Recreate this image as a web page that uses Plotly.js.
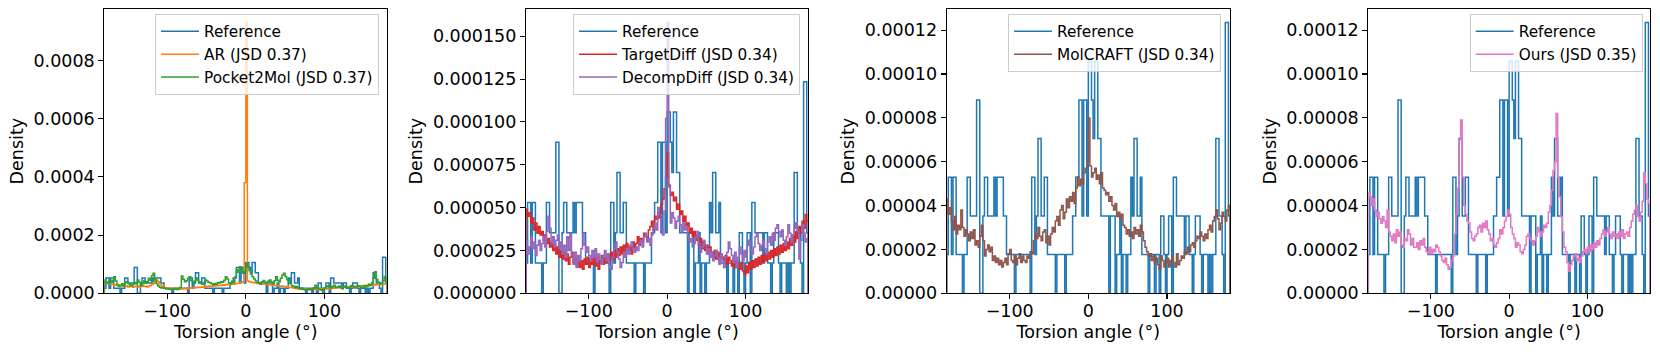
<!DOCTYPE html>
<html>
<head>
<meta charset="utf-8">
<script src="https://cdn.plot.ly/plotly-3.0.1.min.js"></script>
<style>html,body{margin:0;padding:0;background:#fff;}#chart{width:1660px;height:352px;}</style>
</head>
<body>
<div id="chart"></div>
<script>
// ---- data ----
// 180 bins of 2 degrees from -180 to 180
const binStart = -180;
const binWidth = 2;

// Reference histogram: counts per bin, density = count * refUnit
const refUnit = 1.764e-5;
const refCounts = [
  1,3,3,1,3,3,1,1,1,1, 0,1,1,3,3,2,2,2,2,5, 5,0,0,2,3,3,2,2,2,2,
  3,2,3,3,3,3,2,2,1,1, 1,1,1,0,1,1,1,1,1,1, 1,1,1,0,3,3,1,2,4,4,
  2,2,3,3,1,1,1,1,1,0, 1,1,1,1,1,0,1,1,1,1, 2,2,3,3,5,5,2,5,5,2,
  6,6,5,4,6,6,4,4,2,2, 2,2,2,0,2,2,2,0,1,1, 2,0,1,1,0,1,1,3,2,4,
  4,2,2,3,1,1,1,1,0,1, 1,1,0,1,1,0,2,2,1,0, 1,2,2,0,3,3,2,2,2,2,
  2,1,2,2,1,1,0,1,2,2, 2,1,0,1,1,1,0,1,0,1, 1,4,4,2,2,1,0,7,7,2
];

// Model densities, in units of 1e-6
const modelUnit = 1e-6;
const arVals = [
  40,37,35,33,31,30,28,29,27,26, 25,26,24,23,25,22,24,23,21,24,
  23,25,22,24,26,23,24,22,25,27, 30,36,42,45,40,33,27,23,20,19,
  18,17,16,17,15,16,15,17,16,15, 16,17,15,18,17,19,18,20,19,21,
  20,22,21,23,22,24,23,25,24,26, 25,27,26,28,27,29,28,30,29,31,
  30,32,31,33,34,35,37,38,40,380, 930,42,40,38,37,36,35,34,35,33,
  32,33,31,30,31,29,28,29,27,26, 27,25,24,25,23,22,23,21,20,19,
  18,17,16,17,15,16,14,15,14,13, 14,13,14,15,13,14,15,14,16,15,
  16,15,17,16,18,17,19,18,20,19, 21,20,22,21,23,22,24,23,22,24,
  25,24,26,25,27,26,28,27,26,28, 29,28,30,29,31,30,32,31,33,32
];
const pocket2molVals = [
  46,38,34,41,37,45,57,42,30,23, 28,33,26,36,40,34,29,25,31,37,
  33,46,38,27,33,42,35,40,52,45, 60,69,48,33,25,21,18,19,17,15,
  16,14,13,15,14,17,13,15,20,59, 48,40,43,52,57,44,35,41,53,46,
  39,34,31,37,46,42,38,36,33,30, 34,31,37,35,40,38,45,57,49,36,
  33,41,38,56,80,72,91,84,69,75, 103,90,78,66,57,49,42,38,35,31,
  40,44,38,35,41,46,39,33,43,57, 45,40,52,63,69,58,47,40,34,26,
  24,20,23,19,15,18,14,12,11,13, 16,12,14,19,28,20,17,12,10,14,
  19,23,26,21,18,24,28,20,22,25, 19,16,22,25,19,17,22,27,23,18,
  20,26,24,19,21,25,22,26,31,28, 35,52,74,48,38,33,36,42,58,50
];
const targetDiffVals = [
  49,45,47,41,44,37,41,35,39,34, 36,31,34,29,32,27,30,25,28,23,
  27,21,25,20,24,19,23,17,21,24, 18,21,16,20,15,19,14,20,17,21,
  15,20,17,22,16,21,14,19,22,17, 21,18,23,19,24,20,25,21,26,22,
  27,23,28,24,29,25,27,23,30,26, 29,33,28,32,30,35,33,31,37,39,
  42,37,45,43,47,44,52,55,61,68, 82,63,57,59,54,56,49,52,46,48,
  42,45,39,41,35,38,33,36,31,34, 28,32,26,30,25,28,23,27,24,21,
  25,20,24,19,23,21,18,22,17,21, 19,16,20,15,19,17,14,18,13,11,
  16,12,18,14,19,15,20,16,21,17, 22,18,23,19,24,20,25,21,26,22,
  27,23,28,24,29,25,30,26,32,28, 34,30,36,32,39,35,42,38,46,42
];
const decompDiffVals = [
  31,23,27,33,26,30,22,28,31,25, 29,33,27,36,45,38,29,33,27,31,
  34,26,30,23,28,21,33,25,35,22, 17,24,15,22,19,26,35,28,24,27,
  22,19,25,21,26,18,23,20,17,22, 25,19,23,16,14,21,26,30,24,20,
  15,18,24,21,26,23,28,30,26,24, 27,25,29,31,27,33,35,30,32,28,
  34,38,41,37,50,46,38,34,48,102, 158,62,41,47,44,38,42,45,40,36,
  41,37,39,33,30,32,27,29,33,36, 29,24,27,31,28,23,26,21,24,19,
  22,25,21,17,23,19,15,21,24,30, 26,22,18,24,15,21,27,23,19,25,
  21,28,31,25,23,27,33,35,29,25, 28,31,26,23,30,33,28,35,31,38,
  40,36,33,37,31,28,33,40,35,30, 34,38,41,36,20,31,40,35,30,32
];
const molcraftVals = [
  43,36,39,33,29,35,27,31,29,38, 30,26,29,27,24,28,25,29,22,24,
  21,26,31,24,17,20,22,19,21,15, 17,14,16,13,15,12,14,16,13,18,
  20,15,14,17,13,16,18,14,17,15, 14,17,16,19,18,24,27,25,30,26,
  24,28,29,23,26,22,27,30,28,33, 35,31,38,40,34,37,43,39,44,42,
  46,41,48,53,49,52,50,55,57,60, 80,58,53,55,57,52,54,50,55,48,
  47,45,46,42,44,40,38,41,35,37, 34,36,31,30,27,29,26,28,25,30,
  27,29,26,31,28,24,21,19,17,18, 15,17,14,16,13,11,17,15,12,14,
  16,12,15,17,14,12,18,13,15,17, 16,19,18,21,19,22,23,21,24,26,
  25,28,26,24,27,25,29,31,28,33, 35,38,34,29,32,37,35,33,38,40
];
const oursVals = [
  46,44,40,43,38,35,37,34,32,35, 33,30,38,28,26,24,27,23,29,26,
  28,22,21,25,24,29,27,22,25,21, 21,23,20,24,22,25,21,19,18,21,
  18,20,19,22,21,19,17,15,14,16, 13,11,12,15,17,27,36,48,70,79,
  53,40,36,33,32,28,25,24,26,27, 30,31,28,32,30,33,29,27,24,25,
  22,21,23,25,29,27,30,33,35,38, 36,30,27,25,21,23,22,19,18,20,
  22,26,27,25,24,22,24,26,30,28, 26,28,31,30,32,37,40,47,56,60,
  82,53,44,35,28,21,19,14,10,13, 15,17,18,15,16,14,17,19,20,18,
  21,19,22,20,23,21,24,22,25,27, 29,26,28,30,27,25,28,26,27,25,
  28,26,29,25,27,28,26,30,33,36, 38,40,35,33,37,42,55,50,43,41
];

const panels = [
  {models: [{name: 'AR (JSD 0.37)', vals: arVals, color: '#ff7f0e'},
            {name: 'Pocket2Mol (JSD 0.37)', vals: pocket2molVals, color: '#2ca02c'}],
   fmt: '.4f', dtick: 0.0002},
  {models: [{name: 'TargetDiff (JSD 0.34)', vals: targetDiffVals, color: '#d62728'},
            {name: 'DecompDiff (JSD 0.34)', vals: decompDiffVals, color: '#9467bd'}],
   fmt: '.6f', dtick: 0.000025},
  {models: [{name: 'MolCRAFT (JSD 0.34)', vals: molcraftVals, color: '#8c564b'}],
   fmt: '.5f', dtick: 0.00002},
  {models: [{name: 'Ours (JSD 0.35)', vals: oursVals, color: '#e377c2'}],
   fmt: '.5f', dtick: 0.00002}
];

// ---- layout geometry (px) ----
const W = 1660, H = 352;
const plotLeft = [104.3, 526, 946.7, 1368.3];
const plotRight = [387.3, 808.3, 1230, 1650];
const plotTop = 9, plotBottom = 293.3;
const legendRight = [379, 800, 1221, 1642.7];
const legendTop = 13.8;

function stepXY(vals, unit) {
  const xs = [binStart], ys = [0];
  for (let i = 0; i < vals.length; i++) {
    xs.push(binStart + i * binWidth);
    ys.push(vals[i] * unit);
  }
  xs.push(binStart + vals.length * binWidth); ys.push(vals[vals.length - 1] * unit);
  xs.push(binStart + vals.length * binWidth); ys.push(0);
  return {xs, ys};
}

const font = 'DejaVu Sans';
const traces = [];
const layout = {
  width: W, height: H,
  margin: {l: 0, r: 0, t: 0, b: 0},
  paper_bgcolor: '#ffffff', plot_bgcolor: '#ffffff',
  font: {family: font, color: '#000000', size: 17.5},
  showlegend: true
};

panels.forEach((p, k) => {
  const n = k + 1;
  const xa = 'x' + (n === 1 ? '' : n), ya = 'y' + (n === 1 ? '' : n);
  const lg = 'legend' + (n === 1 ? '' : n);
  const ref = stepXY(refCounts, refUnit);
  let ymax = Math.max(...ref.ys);
  traces.push({x: ref.xs, y: ref.ys, type: 'scatter', mode: 'lines', name: 'Reference',
    line: {color: '#1f77b4', width: 1.5, shape: 'hv'}, xaxis: xa, yaxis: ya, legend: lg, hoverinfo: 'skip'});
  p.models.forEach((m) => {
    const s = stepXY(m.vals, modelUnit);
    ymax = Math.max(ymax, ...s.ys);
    traces.push({x: s.xs, y: s.ys, type: 'scatter', mode: 'lines', name: m.name,
      line: {color: m.color, width: 1.5, shape: 'hv'}, xaxis: xa, yaxis: ya, legend: lg, hoverinfo: 'skip'});
  });
  const axCommon = {showline: true, mirror: true, linecolor: '#000', linewidth: 1.1,
    ticks: 'outside', ticklen: 5, tickwidth: 1.1, tickcolor: '#000', showgrid: false, zeroline: false,
    tickfont: {size: 17.5, family: font, color: '#000'}};
  layout['xaxis' + (n === 1 ? '' : n)] = Object.assign({}, axCommon, {
    domain: [plotLeft[k] / W, plotRight[k] / W], anchor: ya, range: [-180, 180],
    tickvals: [-100, 0, 100], ticktext: ['\u2212100', '0', '100'], ticklabelstandoff: -3,
    title: {text: 'Torsion angle (°)', font: {size: 17.5, family: font}, standoff: 5}
  });
  layout['yaxis' + (n === 1 ? '' : n)] = Object.assign({}, axCommon, {
    domain: [(H - plotBottom) / H, (H - plotTop) / H], anchor: xa, range: [0, ymax * 1.05],
    tick0: 0, dtick: p.dtick, tickformat: p.fmt, ticklabelstandoff: 0,
    title: {text: 'Density', font: {size: 17.5, family: font}, standoff: 5}
  });
  layout[lg] = {x: legendRight[k] / W, y: (H - legendTop) / H, xanchor: 'right', yanchor: 'top',
    bgcolor: 'rgba(255,255,255,0.8)', bordercolor: '#cccccc', borderwidth: 1,
    font: {size: 15.3, family: font, color: '#000'}, tracegroupgap: 0, itemwidth: 38};
});

Plotly.newPlot('chart', traces, layout, {staticPlot: true, displayModeBar: false});
</script>
</body>
</html>
